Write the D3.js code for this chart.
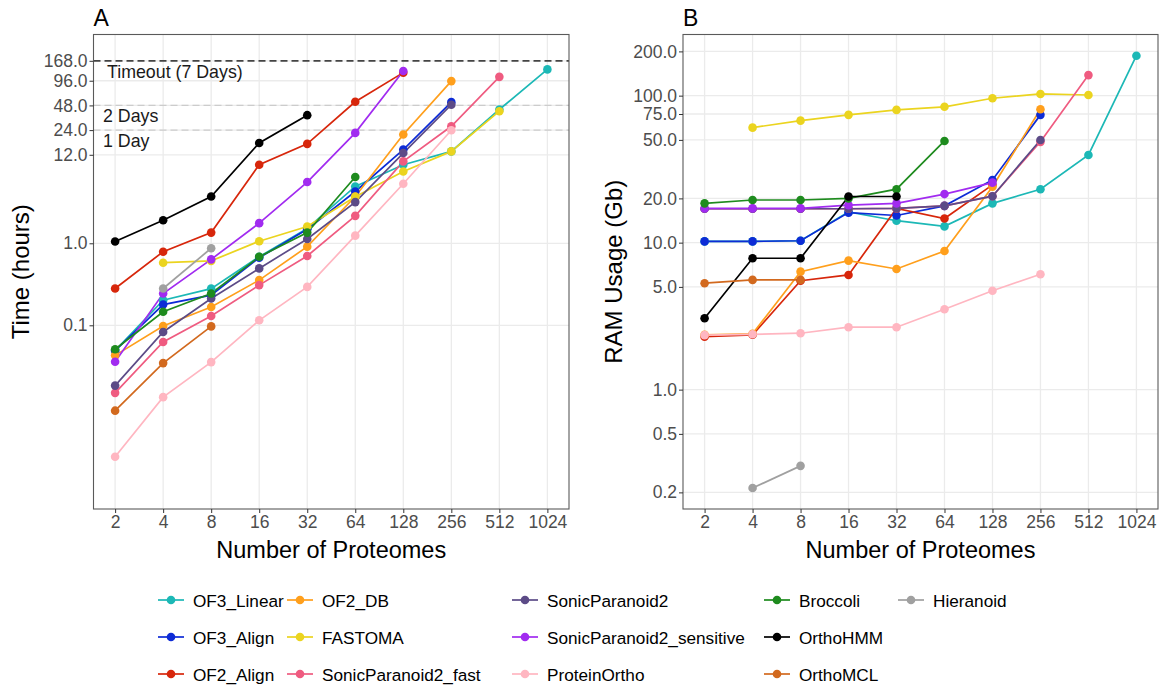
<!DOCTYPE html>
<html>
<head>
<meta charset="utf-8">
<script src="https://cdn.jsdelivr.net/npm/d3@7"></script>
<style>
  body { margin: 0; background: #fff; }
  svg { font-family: "Liberation Sans", Arial, sans-serif; }
  .tick text { fill: #4d4d4d; font-size: 17.5px; }
  .tick line { stroke: #333; }
  .domain { display: none; }
</style>
</head>
<body>
<div class="svg-container"></div>
<script>
// x categories
var proteomes = [2, 4, 8, 16, 32, 64, 128, 256, 512, 1024];

var methods = ["OF3_Linear", "OF3_Align", "OF2_Align", "OF2_DB", "FASTOMA",
  "SonicParanoid2_fast", "SonicParanoid2", "SonicParanoid2_sensitive",
  "ProteinOrtho", "Broccoli", "OrthoHMM", "OrthoMCL", "Hieranoid"];

var methodColors = ["#1cb8b6", "#0d2bd6", "#d7260b", "#ff9f1c", "#ebd41f",
  "#ef5b80", "#5c4b87", "#a12bf0", "#ffb6c1", "#1e8b1e", "#000000",
  "#d2691e", "#a0a0a0"];

// panel A: wall time (hours), one row per method, aligned with proteomes
var timeHours = [
  [0.049, 0.202, 0.28, 0.685, 1.52, 4.93, 9.08, 13.2, 42.8, 132],
  [0.049, 0.179, 0.233, 0.667, 1.48, 4.28, 13.9, 52.6, null, null],
  [0.281, 0.79, 1.35, 9.08, 16.3, 53.2, 120.5, null, null, null],
  [0.043, 0.098, 0.167, 0.356, 0.91, 3.72, 21.2, 95, null, null],
  [null, 0.58, 0.61, 1.06, 1.6, 3.7, 7.5, 13.2, 40.8, null],
  [0.015, 0.0625, 0.13, 0.309, 0.7, 2.16, 9.97, 26.7, 107, null],
  [0.0184, 0.083, 0.212, 0.494, 1.13, 3.18, 12.6, 49, null, null],
  [0.036, 0.244, 0.637, 1.76, 5.58, 22.2, 126, null, null, null],
  [0.0025, 0.0133, 0.0356, 0.115, 0.294, 1.24, 5.32, 23.9, null, null],
  [0.051, 0.146, 0.244, 0.685, 1.35, 6.43, null, null, null, null],
  [1.05, 1.91, 3.72, 16.7, 36.5, null, null, null, null, null],
  [0.0091, 0.0346, 0.097, null, null, null, null, null, null, null],
  [null, 0.281, 0.87, null, null, null, null, null, null, null]
];

// panel B: RAM usage (Gb)
var ramGb = [
  [10.2, 10.2, 10.3, 16.2, 14.1, 12.9, 18.5, 23.1, 39.5, 187],
  [10.2, 10.2, 10.3, 16, 15.3, 17.8, 26.7, 74, null, null],
  [2.29, 2.36, 5.51, 6.03, 17.1, 14.6, 24.7, null, null, null],
  [2.36, 2.4, 6.35, 7.55, 6.62, 8.78, 24, 80.8, null, null],
  [null, 60.6, 67.6, 74, 80, 84, 96, 102.7, 101, null],
  [17.0, 17.0, 17.0, 17.0, 17.1, 17.8, 20.7, 48.5, 138, null],
  [17.0, 17.0, 17.0, 17.0, 17.1, 17.8, 20.7, 49.9, null, null],
  [17.1, 17.1, 17.1, 18, 18.5, 21.4, 25.6, null, null, null],
  [2.35, 2.38, 2.42, 2.66, 2.66, 3.52, 4.71, 6.1, null, null],
  [18.5, 19.5, 19.5, 20, 23.1, 49.2, null, null, null, null],
  [3.06, 7.83, 7.83, 20.6, 20.6, null, null, null, null, null],
  [5.3, 5.58, 5.58, null, null, null, null, null, null, null],
  [null, 0.214, 0.303, null, null, null, null, null, null, null]
];

var timeTicks = [0.1, 1, 12, 24, 48, 96, 168];
var ramTicks = [0.2, 0.5, 1, 5, 10, 20, 50, 75, 100, 200];

// reference lines in panel A
var refHours = [168, 48, 24];
var refLabels = ["Timeout (7 Days)", "2 Days", "1 Day"];

var width = 1162, height = 688;
var plotTop = 34.5, plotBottom = 509;

var svg = d3.select(".svg-container").append("svg")
  .attr("width", width)
  .attr("height", height);

function drawPanel(opts) {
  var x = d3.scaleLog().base(2)
    .domain([Math.pow(2, 0.55), Math.pow(2, 10.45)])
    .range([opts.left, opts.right]);
  var y = d3.scaleLog()
    .domain(opts.yDomain)
    .range([plotBottom, plotTop]);

  var g = svg.append("g");

  // grid
  g.selectAll("line.gx").data(proteomes).enter().append("line")
    .attr("x1", function(d) {return x(d);}).attr("x2", function(d) {return x(d);})
    .attr("y1", plotTop).attr("y2", plotBottom)
    .attr("stroke", "#ebebeb").attr("stroke-width", 1.3);
  g.selectAll("line.gy").data(opts.ticks).enter().append("line")
    .attr("y1", function(d) {return y(d);}).attr("y2", function(d) {return y(d);})
    .attr("x1", opts.left).attr("x2", opts.right)
    .attr("stroke", "#ebebeb").attr("stroke-width", 1.3);

  if (opts.refs) opts.refs(g, x, y);

  var series = methods.map(function(m, i) {
    var pts = [];
    opts.values[i].forEach(function(v, j) {
      if (v != null) pts.push({x: proteomes[j], y: v});
    });
    return {name: m, color: methodColors[i], points: pts};
  });

  var line = d3.line()
    .x(function(d) {return x(d.x);})
    .y(function(d) {return y(d.y);});

  g.selectAll("path.series").data(series).enter().append("path")
    .attr("class", "series")
    .attr("fill", "none")
    .attr("stroke", function(d) {return d.color;})
    .attr("stroke-width", 1.7)
    .attr("d", function(d) {return line(d.points);});

  series.forEach(function(s) {
    g.selectAll(null).data(s.points).enter().append("circle")
      .attr("cx", function(d) {return x(d.x);})
      .attr("cy", function(d) {return y(d.y);})
      .attr("r", 4.3)
      .attr("fill", s.color);
  });

  // border
  g.append("rect")
    .attr("x", opts.left).attr("y", plotTop)
    .attr("width", opts.right - opts.left).attr("height", plotBottom - plotTop)
    .attr("fill", "none").attr("stroke", "#5a5a5a").attr("stroke-width", 1.1);

  // axes
  g.append("g")
    .attr("transform", "translate(0," + plotBottom + ")")
    .call(d3.axisBottom(x).tickValues(proteomes).tickFormat(d3.format("d")).tickSize(4).tickPadding(3));
  g.append("g")
    .attr("transform", "translate(" + opts.left + ",0)")
    .call(d3.axisLeft(y).tickValues(opts.ticks).tickFormat(d3.format(".1f")).tickSize(4).tickPadding(2));

  g.append("text")
    .attr("x", (opts.left + opts.right) / 2).attr("y", 558)
    .attr("text-anchor", "middle")
    .attr("font-size", 23.5)
    .text("Number of Proteomes");

  g.append("text")
    .attr("transform", "translate(" + opts.yTitleX + "," + ((plotTop + plotBottom) / 2) + ") rotate(-90)")
    .attr("text-anchor", "middle")
    .attr("font-size", 24)
    .text(opts.yTitle);

  g.append("text")
    .attr("x", opts.left).attr("y", 26)
    .attr("font-size", 23)
    .text(opts.tag);
}

drawPanel({
  left: 93.5, right: 569,
  yDomain: [Math.pow(10, -3.24), Math.pow(10, 2.546)],
  ticks: timeTicks,
  values: timeHours,
  yTitle: "Time (hours)", yTitleX: 29,
  tag: "A",
  refs: function(g, x, y) {
    refHours.forEach(function(h, i) {
      g.append("line")
        .attr("x1", 93.5).attr("x2", 569)
        .attr("y1", y(h)).attr("y2", y(h))
        .attr("stroke", i == 0 ? "#444" : "#cccccc")
        .attr("stroke-width", i == 0 ? 1.7 : 1.3)
        .attr("stroke-dasharray", "7,4");
      g.append("text")
        .attr("x", i == 0 ? 107 : 103)
        .attr("y", y(h) + 17)
        .attr("font-size", 17.8)
        .attr("fill", "#1a1a1a")
        .text(refLabels[i]);
    });
  }
});

drawPanel({
  left: 683, right: 1158,
  yDomain: [Math.pow(10, -0.812), Math.pow(10, 2.416)],
  ticks: ramTicks,
  values: ramGb,
  yTitle: "RAM Usage (Gb)", yTitleX: 622,
  tag: "B"
});

// legend, 3 rows filled column by column
var legendKeyX = [171, 300, 525, 777, 911];
var legendRowY = [600, 637, 674];

var legend = svg.append("g").attr("class", "legend");
methods.forEach(function(m, i) {
  var col = Math.floor(i / 3), row = i % 3;
  var cx = legendKeyX[col], cy = legendRowY[row];
  var item = legend.append("g");
  item.append("line")
    .attr("x1", cx - 13).attr("x2", cx + 13)
    .attr("y1", cy).attr("y2", cy)
    .attr("stroke", methodColors[i]).attr("stroke-width", 1.7);
  item.append("circle")
    .attr("cx", cx).attr("cy", cy).attr("r", 4.3)
    .attr("fill", methodColors[i]);
  item.append("text")
    .attr("x", cx + 22).attr("y", cy + 6.5)
    .attr("font-size", 17.2)
    .text(m);
});
</script>
</body>
</html>
